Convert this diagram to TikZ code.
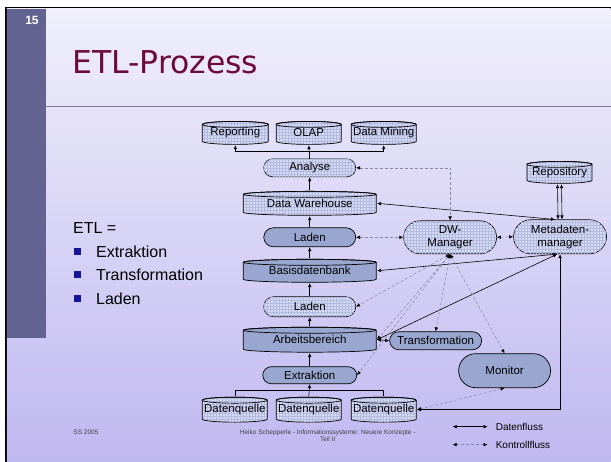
\documentclass[tikz,border=0pt]{standalone}
\usepackage{fontspec}
\setmainfont{Liberation Sans}
\newfontfamily\titlefont{DejaVu Sans}
\usepackage{tikz}
\usetikzlibrary{shapes,arrows.meta,positioning,calc,patterns}
\definecolor{bgtop}{RGB}{240,239,251}
\definecolor{bgbot}{RGB}{192,184,240}
\definecolor{barpurple}{RGB}{99,99,146}
\definecolor{headline}{RGB}{122,122,170}
\definecolor{titlered}{RGB}{108,10,60}
\definecolor{bulletblue}{RGB}{20,20,150}
\definecolor{litefill}{RGB}{214,218,242}
\definecolor{gridline}{RGB}{178,186,224}
\definecolor{darkfill}{RGB}{152,166,208}
\definecolor{ctrlgray}{RGB}{135,135,160}
\tikzset{
    ctip/.tip={Latex[length=4pt,width=3.6pt,color=black]},
    dbfill/.store in=\dbfill, dbfill=litefill,
    dbgrid/.store in=\dbgrid, dbgrid=gridline
}

\begin{document}
\begin{tikzpicture}[x=1pt,y=-1pt, >={Latex[length=4pt,width=3.6pt]},
    box/.style={draw=black, line width=0.7pt, inner sep=0pt, align=center,
        font=\fontsize{11.5}{12.5}\selectfont},
    lite/.style={fill=litefill, postaction={pattern=grid, pattern color=gridline}},
    dark/.style={fill=darkfill},
    % database drum drawn inside a plain rectangle node
    dbase/.style={box, draw=none, rectangle, minimum width=#1, minimum height=24,
        path picture={
            \draw[line width=0.7pt, preaction={fill=\dbfill},
                    preaction={pattern=grid, pattern color=\dbgrid}]
                let \p1=(path picture bounding box.north west),
                    \p2=(path picture bounding box.south east),
                    \n1={(\x2-\x1)/2-0.5pt} in
                (\x1+0.5pt,\y1-3.5pt) -- (\x1+0.5pt,\y2+3.5pt)
                arc[start angle=180, end angle=360, x radius=\n1, y radius=3pt]
                -- (\x2-0.5pt,\y1-3.5pt)
                arc[start angle=0, end angle=180, x radius=\n1, y radius=3pt] -- cycle;
            \draw[line width=0.7pt]
                let \p1=(path picture bounding box.north west),
                    \p2=(path picture bounding box.south east),
                    \n1={(\x2-\x1)/2-0.5pt} in
                (\x1/2+\x2/2,\y1-3.5pt) ellipse[x radius=\n1, y radius=3pt];
        }},
    dbdark/.style={dbfill=darkfill, dbgrid=darkfill},
    pill/.style={box, rounded rectangle, minimum width=92, minimum height=#1},
    flow/.style={draw=black, line width=0.6pt},
    ctrl/.style={draw=ctrlgray, line width=0.5pt, dash pattern=on 3pt off 2pt, ctip-ctip}]

    % Slide
    \fill[white] (0,0) rectangle (611,462);
    \fill[black] (5,7) rectangle (611,9);
    \fill[black] (5,7) rectangle (7,462);
    \shade[top color=bgtop, bottom color=bgbot] (7,9) rectangle (611,462);
    \fill[barpurple] (7,9) rectangle (46,338);
    \draw[headline, line width=1pt] (46,107) -- (611,107);
    \node[text=white, font=\bfseries\fontsize{12}{13}\selectfont] (num) at (32,20) {15};
    \node[anchor=west, inner sep=0, text=titlered, font=\titlefont\fontsize{31.5}{33}\selectfont] (title) at (72,62) {ETL-Prozess};

    % ETL list
    \node[anchor=west, inner sep=0, font=\fontsize{16}{18}\selectfont] (etl) at (73,228) {ETL =};
    \foreach \y/\t [count=\i] in {252/Extraktion, 275/Transformation, 299/Laden} {
        \fill[bulletblue] (74,\y-3.5) rectangle (81,\y+3.5);
        \node[anchor=west, inner sep=0, font=\fontsize{16}{18}\selectfont] (item\i) at (96,\y) {\t};
    }

    % Analysis tools
    \node[dbase=67] (rep) at (235.5,133) {Reporting};
    \node[dbase=66] (olap) at (309,133) {OLAP};
    \node[dbase=66] (mine) at (384,133) {Data Mining};
    \node[pill=18, lite] (ana) at (310,168) {Analyse};

    % Data flow column
    \node[dbase=134, minimum height=25] (dwh) at (310,203.5) {Data Warehouse};
    \node[pill=19, dark] (lad1) at (310,237.5) {Laden};
    \node[dbase=134, dbdark] (bdb) at (310,271) {Basisdatenbank};
    \node[pill=20, lite] (lad2) at (310,307) {Laden};
    \node[dbase=134, dbdark, minimum height=26] (arb) at (310,340) {Arbeitsbereich};
    \node[pill=17, dark, minimum width=94] (ext) at (310,375.5) {Extraktion};
    \foreach \x [count=\i] in {235,309,384} {
        \node[dbase=66, minimum height=26] (dq\i) at (\x,410) {Datenquelle};
    }

    % Managers
    \node[pill=33, lite, minimum width=93] (dwm) at (450.5,237.5) {DW-\\Manager};
    \node[pill=34, lite, minimum width=93] (meta) at (560.5,237) {Metadaten-\\manager};
    \node[dbase=66, minimum height=23] (repo) at (560,172.5) {Repository};
    \node[pill=18, dark] (trans) at (436,341) {Transformation};
    \node[pill=34, dark] (mon) at (505,371) {Monitor};

    % Datenfluss
    \draw[flow,->] (ana.north) -- (olap.south);
    \draw[flow,->] (ana.north) -- ++(0,-7) -| (rep.south);
    \draw[flow,->] (ana.north) -- ++(0,-7) -| (mine.south);
    \draw[flow,->] (dwh.north) -- (ana.south);
    \draw[flow,->] (lad1.north) -- (dwh.south);
    \draw[flow,->] (bdb.north) -- (lad1.south);
    \draw[flow,->] (lad2.north) -- (bdb.south);
    \draw[flow,->] (arb.north) -- (lad2.south);
    \draw[flow,->] (ext.north) -- (arb.south);
    \draw[flow,->] (dq2.north) -- (ext.south);
    \draw[flow] (dq1.north) -- ++(0,-6) -| (dq3.north);
    \draw[flow,<->] (arb.east) -- (trans.west);
    \draw[flow,<->] ([xshift=-2pt]repo.south) -- ([xshift=-2pt]meta.north);
    \draw[flow,<->] ([xshift=2pt]repo.south) -- ([xshift=2pt]meta.north);
    \draw[flow,<->] (dwh.east) -- ([xshift=-5pt]meta.north);
    \draw[flow,<->] (bdb.east) -- ([xshift=-3pt]meta.south);
    \draw[flow,<->] (arb.east) -- ([xshift=-3pt]meta.south);
    \draw[flow,<->] (meta.south) |- (dq3.east);

    % Kontrollfluss
    \draw[ctrl] (ana.east) -| (dwm.north);
    \draw[ctrl] (lad1.east) -- (dwm.west);
    \draw[ctrl] (dwm.east) -- (meta.west);
    \foreach \n in {lad2.east, arb.east, ext.east, trans.north, mon.north} {
        \draw[ctrl] (dwm.south) -- (\n);
    }
    \draw[ctrl] (mon.south) -- (dq3.east);

    % Legend
    \coordinate (df1) at (453,427);
    \coordinate (df2) at (488,427);
    \coordinate (kf1) at (453,445);
    \coordinate (kf2) at (488,445);
    \draw[flow,<->] (df1) -- (df2);
    \draw[ctrl] (kf1) -- (kf2);
    \node[anchor=west, inner sep=0, font=\fontsize{10}{11}\selectfont] (dflab) at (496,427) {Datenfluss};
    \node[anchor=west, inner sep=0, font=\fontsize{10}{11}\selectfont] (kflab) at (496,445) {Kontrollfluss};

    % Footer
    \node[text=black!75, font=\fontsize{6.5}{7}\selectfont] (sem) at (86,433) {SS 2005};
    \node[text=black!75, align=center, font=\fontsize{6.5}{7.5}\selectfont] (foot) at (328,436) {Heiko Schepperle - Informationssysteme: Neuere Konzepte -\\Teil II};
\end{tikzpicture}
\end{document}
